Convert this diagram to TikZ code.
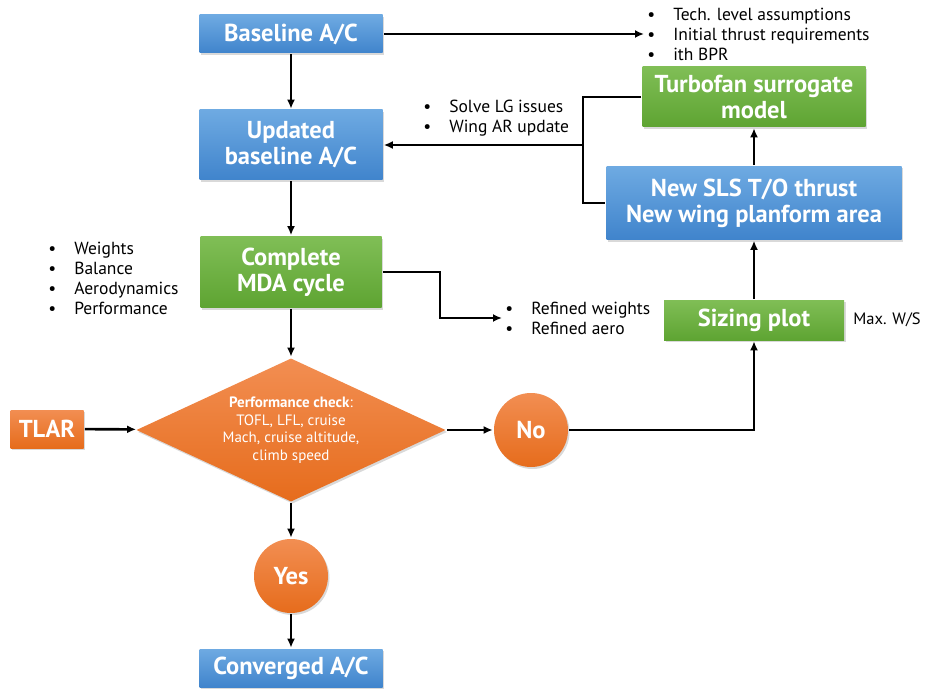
\documentclass[tikz,border=0pt]{standalone}
\usepackage{fontspec}
\setmainfont{PT Sans}
\usetikzlibrary{arrows.meta,shapes.geometric,shadows}

\definecolor{bluetop}{RGB}{110,170,226}
\definecolor{bluebot}{RGB}{64,132,204}
\definecolor{greentop}{RGB}{128,190,86}
\definecolor{greenbot}{RGB}{94,164,50}
\definecolor{orangetop}{RGB}{242,142,82}
\definecolor{orangebot}{RGB}{230,108,28}
\newcommand{\itm}{\makebox[26pt][l]{\textbullet}}

\begin{document}
\begin{tikzpicture}[x=1pt,y=-1pt,>={Latex[length=9pt,width=8pt]},line width=2.6pt,
 box/.style={rectangle,inner sep=2pt,align=center,text=white,
  font=\bfseries\fontsize{24.5}{26}\selectfont,
  drop shadow={opacity=.3,shadow xshift=1.5pt,shadow yshift=-2pt}},
 bluebox/.style={box,top color=bluetop,bottom color=bluebot},
 greenbox/.style={box,top color=greentop,bottom color=greenbot},
 orangebox/.style={box,top color=orangetop,bottom color=orangebot},
 decision/.style={orangebox,circle,minimum size=74pt},
 check/.style={orangebox,diamond,aspect=2.15,inner sep=0pt,minimum width=310pt,
  minimum height=144pt,font=\fontsize{15}{17.5}\selectfont},
 note/.style={align=left,inner sep=2pt,font=\fontsize{17.5}{20}\selectfont}]
\useasboundingbox (0,0) rectangle (927,690);

% main flow
\node[bluebox,minimum width=183pt,minimum height=38pt] (base) at (291,34) {Baseline A/C};
\node[bluebox,minimum width=183pt,minimum height=70pt] (upd) at (291,145) {Updated\\baseline A/C};
\node[greenbox,minimum width=181pt,minimum height=71pt] (mda) at (291,272) {Complete\\MDA cycle};
\node[check] (chk) at (291,430) {\textbf{Performance check}:\\TOFL, LFL, cruise\\Mach, cruise altitude,\\climb speed};
\node[orangebox,minimum width=73pt,minimum height=38pt] (tlar) at (47,429) {TLAR};
\node[decision] (no) at (531,430) {No};
\node[decision] (yes) at (291,576) {Yes};
\node[bluebox,minimum width=183pt,minimum height=38pt] (conv) at (291,668) {Converged A/C};

% sizing loop
\node[greenbox,minimum width=180pt,minimum height=40pt] (sizing) at (754,320) {Sizing plot};
\node[bluebox,minimum width=295pt,minimum height=73pt] (sls) at (754,203) {New SLS T/O thrust\\New wing planform area};
\node[greenbox,minimum width=223pt,minimum height=60pt] (turbo) at (754,97) {Turbofan surrogate\\model};

% notes
\node[note,anchor=west] (tech) at (644,34) {\itm Tech. level assumptions\\\itm Initial thrust requirements\\\itm ith BPR};
\node[note,anchor=west] (lg) at (420,118) {\itm Solve LG issues\\\itm Wing AR update};
\node[note,anchor=west] (disc) at (45,278) {\itm Weights\\\itm Balance\\\itm Aerodynamics\\\itm Performance};
\node[note,anchor=west] (refined) at (502,318) {\itm Refined weights\\\itm Refined aero};
\node[note,anchor=west,font=\fontsize{16.5}{18}\selectfont] (maxws) at (850,320) {Max. W/S};

\draw[->] (base.east) -- (tech.west);
\draw[->] (base) -- (upd);
\draw[->] (upd) -- (mda);
\draw[->] (mda) -- (chk);
\draw[->] (chk) -- (yes);
\draw[->] (yes) -- (conv);
\draw[->] (tlar) -- (chk);
\draw[->] (chk) -- (no);
\draw[->] (no) -| (sizing);
\draw[->] (sizing) -- (sls);
\draw[->] (sls) -- (turbo);
\coordinate (fb) at (583,145);
\draw (turbo.west) -| (fb) |- (sls.west);
\draw[->] (fb) -- (upd.east);
\draw[->] (mda.east) -- ++(57,0) |- (refined.west);
\end{tikzpicture}
\end{document}
